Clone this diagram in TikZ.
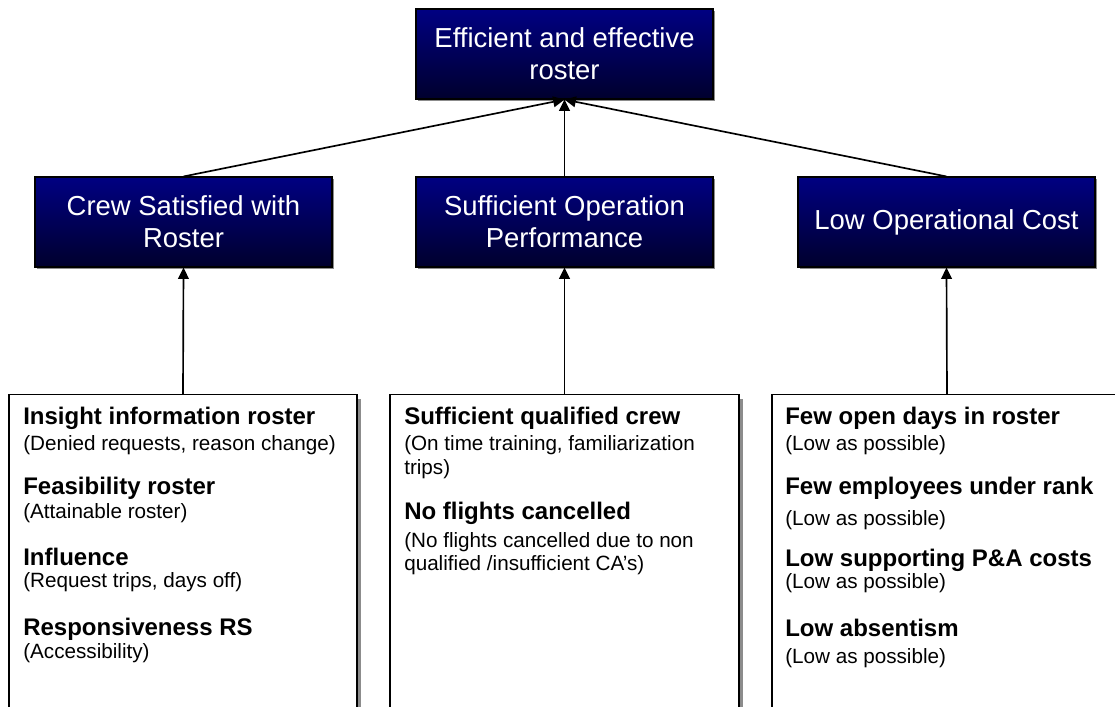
\documentclass[tikz,border=0pt]{standalone}
\usepackage{fontspec}
\setmainfont{Liberation Sans}
\usetikzlibrary{arrows.meta,shadows}

\definecolor{navytop}{RGB}{0,0,130}
\definecolor{navybot}{RGB}{0,0,45}
\definecolor{shadowgrey}{RGB}{140,140,140}

\begin{document}
\begin{tikzpicture}[x=0.75pt,y=-0.75pt,
  goal/.style={draw=black, line width=0.8pt, top color=navytop, bottom color=navybot,
    text=white, align=center, inner sep=0pt,
    minimum width=0.75pt*297, minimum height=0.75pt*90,
    font=\fontsize{20.6}{24}\selectfont,
    drop shadow={shadow xshift=1.6pt, shadow yshift=-1.6pt, fill=shadowgrey, opacity=1}},
  factors/.style={draw=black, line width=1.1pt, fill=white, anchor=north, inner sep=0pt,
    minimum height=0.75pt*340,
    drop shadow={shadow xshift=3pt, shadow yshift=-3pt, fill=shadowgrey, opacity=1}},
  head/.style={anchor=base west, inner sep=0pt, font=\fontsize{18}{20}\selectfont\bfseries},
  note/.style={anchor=base west, inner sep=0pt, font=\fontsize{15.5}{18}\selectfont},
  link/.style={line width=1.25pt, -{Triangle[length=8.5pt,width=8pt]}}
]
\clip (0,0) rectangle (1115,707);

% goal boxes
\node[goal] (roster) at (564.5,54) {Efficient and effective\\roster};
\node[goal] (crew) at (183.5,222) {Crew Satisfied with\\Roster};
\node[goal] (perf) at (564.5,222) {Sufficient Operation\\Performance};
\node[goal] (cost) at (946.5,222) {Low Operational Cost};

% factor boxes
\node[factors, minimum width=0.75pt*348] (fcrew) at (183,394) {};
\node[factors, minimum width=0.75pt*349] (fperf) at (564.5,394) {};
\node[factors, minimum width=0.75pt*350] (fcost) at (947,394) {};

% connectors
\draw[link] (crew.north) -- (roster.south);
\draw[link] (perf.north) -- (roster.south);
\draw[link] (cost.north) -- (roster.south);
\draw[link] (fcrew.north) -- (crew.south);
\draw[link] (fperf.north) -- (perf.south);
\draw[link] (fcost.north) -- (cost.south);

% crew satisfaction factors
\node[head] (c1) at (23,424) {Insight information roster};
\node[note] (c1n) at (23,450) {(Denied requests, reason change)};
\node[head] (c2) at (23,494) {Feasibility roster};
\node[note] (c2n) at (23,518) {(Attainable roster)};
\node[head] (c3) at (23,565) {Influence};
\node[note] (c3n) at (23,587) {(Request trips, days off)};
\node[head] (c4) at (23,635) {Responsiveness RS};
\node[note] (c4n) at (23,658) {(Accessibility)};

% operation performance factors
\node[head] (p1) at (404,424) {Sufficient qualified crew};
\node[note] (p1n) at (404,450) {(On time training, familiarization};
\node[note] (p1m) at (404,474) {trips)};
\node[head] (p2) at (404,519) {No flights cancelled};
\node[note] (p2n) at (404,547) {(No flights cancelled due to non};
\node[note] (p2m) at (404,570) {qualified /insufficient CA's)};

% operational cost factors
\node[head] (k1) at (785,424) {Few open days in roster};
\node[note] (k1n) at (785,450) {(Low as possible)};
\node[head] (k2) at (785,494) {Few employees under rank};
\node[note] (k2n) at (785,525) {(Low as possible)};
\node[head] (k3) at (785,566) {Low supporting P\&A costs};
\node[note] (k3n) at (785,588) {(Low as possible)};
\node[head] (k4) at (785,636) {Low absentism};
\node[note] (k4n) at (785,663) {(Low as possible)};
\end{tikzpicture}
\end{document}
